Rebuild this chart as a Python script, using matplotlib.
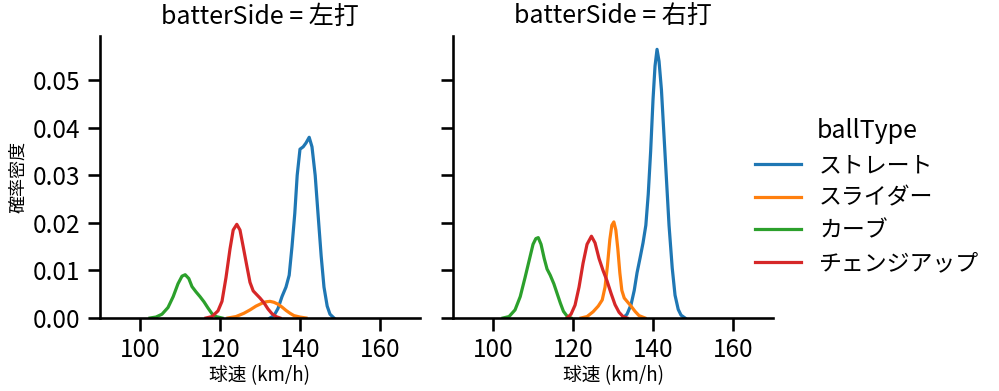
import matplotlib
matplotlib.use("Agg")
import matplotlib.pyplot as plt

plt.rcParams['font.family'] = ['Noto Sans CJK JP', 'DejaVu Sans']

# ball types and colours (seaborn default palette)
ball_types = ['ストレート', 'スライダー', 'カーブ', 'チェンジアップ']
colors = ['#1f77b4', '#ff7f0e', '#2ca02c', '#d62728']

# KDE curves: 左打
l_str_x = [132.5, 133.5, 134.5, 135.5, 136.5, 137.3, 138.0, 138.7, 139.3, 140.0, 140.8, 141.5, 142.3, 143.0, 143.8, 144.5, 145.3, 146.0, 146.8, 147.5, 148.5]
l_str_y = [0, 0.0005, 0.002, 0.0045, 0.0065, 0.009, 0.015, 0.022, 0.030, 0.0355, 0.036, 0.0368, 0.038, 0.036, 0.030, 0.022, 0.013, 0.0065, 0.0025, 0.0008, 0]
l_sl_x = [122, 124, 126, 127.5, 129, 130.5, 131.5, 132.5, 133.5, 134.5, 135.5, 136.5, 137.5, 138.5, 140, 141.5]
l_sl_y = [0, 0.0003, 0.001, 0.0017, 0.0025, 0.0031, 0.0034, 0.0035, 0.0033, 0.0029, 0.0023, 0.0016, 0.001, 0.0005, 0.0002, 0]
l_cv_x = [102.5, 104, 105.5, 107, 108.3, 109.5, 110.5, 111.3, 112.2, 113.0, 114.0, 115.0, 116.0, 117.0, 118.0, 119.0, 120.5]
l_cv_y = [0, 0.0002, 0.0008, 0.0022, 0.0045, 0.0072, 0.0088, 0.0091, 0.0083, 0.0066, 0.0055, 0.0045, 0.0034, 0.0021, 0.0009, 0.0003, 0]
l_ch_x = [116.5, 118, 119.5, 120.5, 121.5, 122.5, 123.3, 124.2, 125.0, 125.8, 126.7, 127.5, 128.3, 129.2, 130.0, 131.0, 132.0, 133.0, 134.0, 135.0]
l_ch_y = [0, 0.0003, 0.0015, 0.0035, 0.0085, 0.0145, 0.0185, 0.0197, 0.0185, 0.015, 0.011, 0.0075, 0.0057, 0.0049, 0.0042, 0.0032, 0.0019, 0.0009, 0.0003, 0]

# 右打
r_str_x = [132.5, 133.5, 134.5, 135.3, 136.0, 136.8, 137.5, 138.2, 138.8, 139.4, 140.0, 140.5, 141.0, 141.5, 142.1, 142.7, 143.3, 144.0, 144.8, 145.5, 146.3, 147.0, 148.0]
r_str_y = [0, 0.0008, 0.0028, 0.0058, 0.0095, 0.0128, 0.0158, 0.0195, 0.026, 0.035, 0.046, 0.053, 0.0565, 0.054, 0.048, 0.039, 0.030, 0.0195, 0.0105, 0.0048, 0.0018, 0.0006, 0]
r_sl_x = [122, 123.5, 125, 126.3, 127.3, 128.0, 128.6, 129.2, 129.7, 130.2, 130.7, 131.2, 131.7, 132.2, 132.8, 133.5, 134.5, 135.5, 136.5, 138.0]
r_sl_y = [0, 0.0003, 0.0013, 0.0025, 0.0038, 0.0065, 0.011, 0.0165, 0.0195, 0.0202, 0.0185, 0.0145, 0.0095, 0.0058, 0.0042, 0.0035, 0.0025, 0.0014, 0.0005, 0]
r_cv_x = [102.5, 104, 105.5, 106.8, 108, 109, 110, 110.7, 111.3, 112, 112.8, 113.5, 114.3, 115.2, 116.0, 116.8, 117.6, 118.5, 119.5]
r_cv_y = [0, 0.0003, 0.0017, 0.0045, 0.0085, 0.012, 0.0155, 0.0167, 0.0169, 0.0155, 0.0125, 0.0103, 0.009, 0.0072, 0.0052, 0.0032, 0.0014, 0.0004, 0]
r_ch_x = [118.5, 119.5, 120.5, 121.5, 122.5, 123.5, 124.6, 125.5, 126.5, 127.5, 128.5, 129.5, 130.5, 131.5, 132.5, 133.5]
r_ch_y = [0, 0.0008, 0.0027, 0.0065, 0.0115, 0.0155, 0.0172, 0.0158, 0.0125, 0.0100, 0.0078, 0.0052, 0.0028, 0.0012, 0.0003, 0]

sides = ['左打', '右打']
curves = {
    '左打': [(l_str_x, l_str_y), (l_sl_x, l_sl_y), (l_cv_x, l_cv_y), (l_ch_x, l_ch_y)],
    '右打': [(r_str_x, r_str_y), (r_sl_x, r_sl_y), (r_cv_x, r_cv_y), (r_ch_x, r_ch_y)],
}

fig = plt.figure(figsize=(9.99, 3.91), dpi=100)
ax1 = fig.add_axes([0.1001, 0.1867, 0.3203, 0.7212])
ax2 = fig.add_axes([0.4535, 0.1867, 0.3203, 0.7212], sharey=ax1)

handles = []
for ax, side in zip([ax1, ax2], sides):
    for (xs, ys), c, name in zip(curves[side], colors, ball_types):
        h, = ax.plot(xs, ys, color=c, lw=2.3, label=name)
        if side == '左打':
            handles.append(h)
    ax.set_xlim(90, 170)
    ax.set_ylim(0, 0.0593)
    ax.set_xticks([100, 120, 140, 160])
    ax.set_yticks([0, 0.01, 0.02, 0.03, 0.04, 0.05])
    ax.spines['top'].set_visible(False)
    ax.spines['right'].set_visible(False)
    for s in ['left', 'bottom']:
        ax.spines[s].set_linewidth(1.875)
    ax.tick_params(labelsize=17.5, width=1.875, length=9, pad=5)
    ax.set_title(f'batterSide = {side}', fontsize=18, pad=9)
    ax.set_xlabel('球速 (km/h)', fontsize=13.5, labelpad=1)

ax1.yaxis.set_major_formatter(matplotlib.ticker.FormatStrFormatter('%.2f'))
ax1.set_ylabel('確率密度', fontsize=13)
ax2.tick_params(labelleft=False)

leg = fig.legend(handles=handles, title='ballType', loc='center left',
                 bbox_to_anchor=(0.735, 0.497), frameon=False,
                 fontsize=16.5, title_fontsize=18, handlelength=2,
                 labelspacing=0.42)

fig.savefig('out.png', dpi=100)
